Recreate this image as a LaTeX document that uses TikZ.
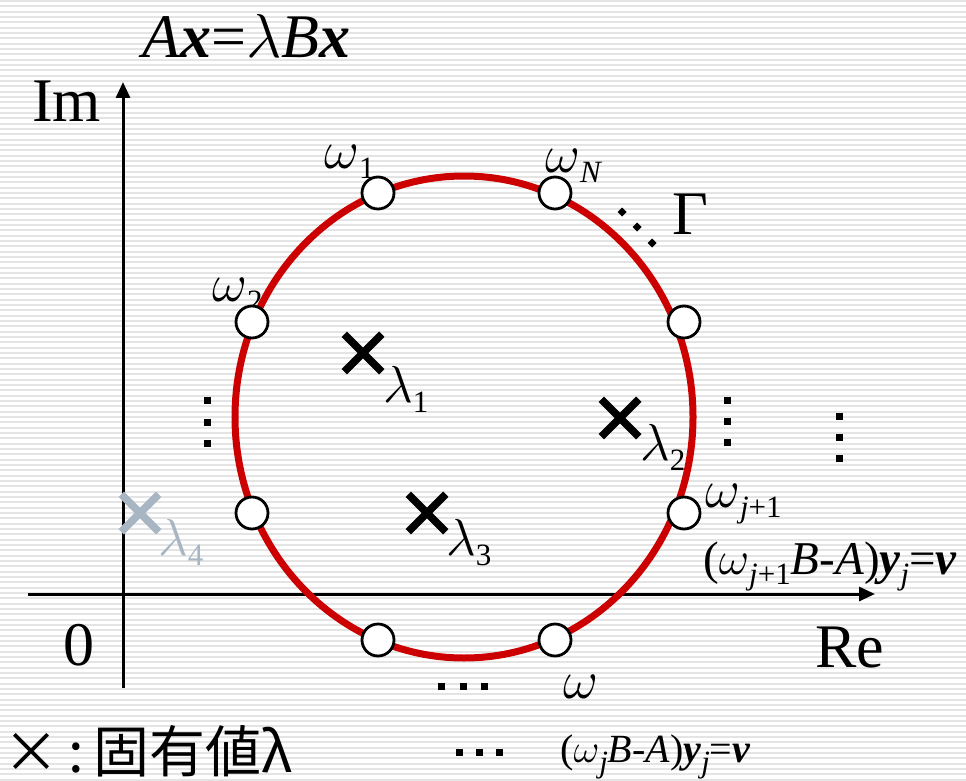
\RequirePackage{fix-cm}
\documentclass[tikz,border=0pt]{standalone}
\usepackage{fontspec}
\setmainfont{Liberation Serif}
\newfontfamily\jpfont{Noto Sans CJK JP}
\usetikzlibrary{arrows.meta, shapes.misc}
\definecolor{contourRed}{HTML}{CC0000}
\definecolor{stripeGray}{HTML}{E4E4E4}
\definecolor{ghostGray}{HTML}{A8B6C4}
\newcommand{\lowsub}[1]{\raisebox{-10pt}{\fontsize{31}{31}\selectfont #1}}

\begin{document}
\begin{tikzpicture}[x=1pt, y=-1pt,
  stripe/.style={draw=stripeGray, line width=2pt},
  axis/.style={draw=black, line width=3pt, -{Triangle[length=16pt,width=14pt]}},
  contour/.style={draw=contourRed, line width=7pt},
  quadPt/.style={circle, draw=black, fill=white, line width=2.8pt, minimum size=32pt, inner sep=0pt},
  eigMark/.style={cross out, draw=black, line width=7.5pt, minimum size=30pt, inner sep=0pt},
  bigLbl/.style={font=\fontsize{62}{62}\selectfont, inner sep=0pt, anchor=base west},
  omLbl/.style={font=\fontsize{54}{54}\selectfont\itshape, inner sep=0pt, anchor=base west},
  lamLbl/.style={font=\fontsize{52}{52}\selectfont\itshape, inner sep=0pt, anchor=base west},
  eqLbl/.style={font=\fontsize{47}{47}\selectfont\itshape, inner sep=0pt, anchor=base west},
  dotSq/.style={fill=black}
]
  % background with stripes
  \useasboundingbox (0,0) rectangle (966,781);
  \fill[white] (0,0) rectangle (966,781);
  \foreach \k in {0,...,146} {
    \draw[stripe] (0,\k*5.333+1) -- (966,\k*5.333+1);
  }

  % axes
  \coordinate (imBot) at (123,688);
  \coordinate (imTop) at (123,82);
  \coordinate (reLeft) at (28,594);
  \coordinate (reRight) at (875,594);
  \draw[axis] (imBot) -- (imTop);
  \draw[axis] (reLeft) -- (reRight);

  % contour Gamma
  \draw[contour] (464,417) ellipse [x radius=229, y radius=241];

  % titles and axis labels
  \node[bigLbl] (title) at (142,58)
    {\textit{A}\textbf{\textit{x}}=$\lambda$\textit{B}\textbf{\textit{x}}};
  \node[bigLbl] (imLbl) at (32,122) {Im};
  \node[bigLbl] (reLbl) at (815,667) {Re};
  \node[bigLbl] (zeroLbl) at (63,665) {0};
  \node[bigLbl] (gammaLbl) at (672,234) {Γ};

  % quadrature point labels
  \node[omLbl] (om1Lbl) at (324,168) {$\omega$\lowsub{\textup{1}}};
  \node[omLbl] (omNLbl) at (545,172) {$\omega$\lowsub{N}};
  \node[omLbl] (om2Lbl) at (212,301) {$\omega$\lowsub{\textup{2}}};
  \node[omLbl] (omJ1Lbl) at (705,507) {$\omega$\lowsub{j\textup{+1}}};
  \node[omLbl] (omJLbl) at (563,698) {$\omega$};

  % linear systems
  \node[eqLbl] (sysJ1) at (703,574)
    {\textup{(}$\omega$\lowsub{j\textup{+1}}B\textup{-}A\textup{)}\textbf{y}\lowsub{j}\textup{=}\textbf{v}};
  \node[eqLbl, font=\fontsize{40}{40}\selectfont\itshape] (sysJ) at (560,762)
    {\textup{(}$\omega$\lowsub{j}B\textup{-}A\textup{)}\textbf{y}\lowsub{j}\textup{=}\textbf{v}};

  % legend
  \node[inner sep=0pt, anchor=base west, font=\jpfont\fontsize{56}{56}\selectfont]
    (legend) at (3,772) {×\,:\,固有値λ};

  % quadrature points
  \node[quadPt] (w1) at (378,193) {};
  \node[quadPt] (wN) at (555,193) {};
  \node[quadPt] (w2) at (252,322) {};
  \node[quadPt] (wR1) at (684,322) {};
  \node[quadPt] (wL2) at (252,513) {};
  \node[quadPt] (wJ1) at (684,513) {};
  \node[quadPt] (wB1) at (378,640) {};
  \node[quadPt] (wJ) at (555,640) {};

  % eigenvalues
  \node[eigMark] (eig1) at (363,353) {};
  \node[eigMark] (eig2) at (620,418) {};
  \node[eigMark] (eig3) at (427,513) {};
  \node[eigMark, draw=ghostGray] (eig4) at (140,513) {};
  \node[lamLbl] (lam1) at (383,402) {$\lambda$\lowsub{\textup{1}}};
  \node[lamLbl] (lam2) at (640,460) {$\lambda$\lowsub{\textup{2}}};
  \node[lamLbl] (lam3) at (446,555) {$\lambda$\lowsub{\textup{3}}};
  \node[lamLbl, text=ghostGray] (lam4) at (158,555) {$\lambda$\lowsub{\textup{4}}};

  % dots
  \foreach \x/\y in {207/400, 207/422, 207/443, 727/400, 727/421, 727/442,
                     839/416, 839/437, 839/458, 441/686, 463/686, 484/686,
                     459/752, 479/752, 499/752} {
    \fill[dotSq] (\x-3.5,\y-3.5) rectangle (\x+3.5,\y+3.5);
  }
  \foreach \x/\y in {622/212, 637/227, 652/243} {
    \fill[dotSq] (\x-4.5,\y) -- (\x,\y-4.5) -- (\x+4.5,\y) -- (\x,\y+4.5) -- cycle;
  }
\end{tikzpicture}
\end{document}
